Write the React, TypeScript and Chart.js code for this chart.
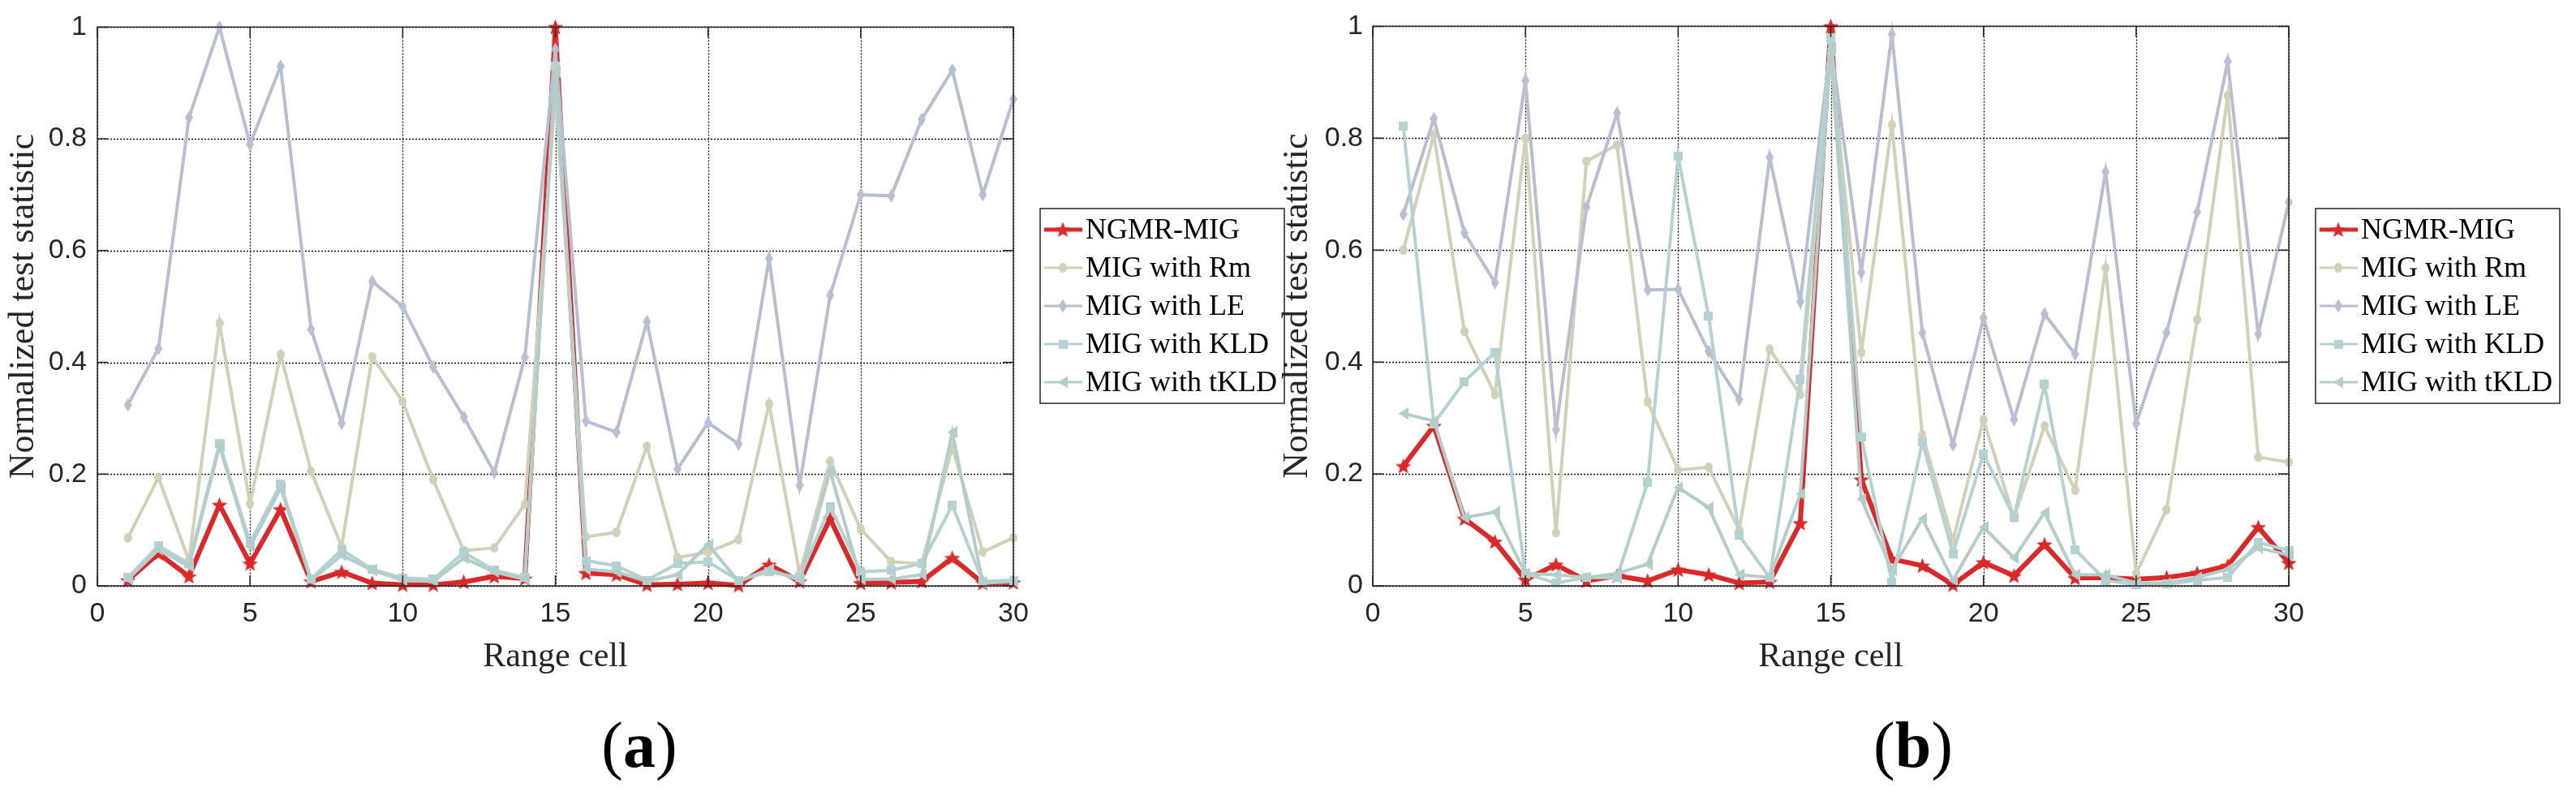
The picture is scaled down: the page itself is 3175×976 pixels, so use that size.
import React, { useEffect, useRef } from "react";
import { Chart, registerables } from "chart.js";

Chart.register(...registerables);

// range cells 1..30
const cells = [1, 2, 3, 4, 5, 6, 7, 8, 9, 10, 11, 12, 13, 14, 15, 16, 17, 18, 19, 20, 21, 22, 23, 24, 25, 26, 27, 28, 29, 30];
const xTicks = [0, 5, 10, 15, 20, 25, 30];
const yTicks = [0, 0.2, 0.4, 0.6, 0.8, 1];
const seriesNames = ["NGMR-MIG", "MIG with Rm", "MIG with LE", "MIG with KLD", "MIG with tKLD"];

// panel (a)
const aNgmr = [0.010, 0.058, 0.017, 0.145, 0.040, 0.137, 0.008, 0.025, 0.005, 0.002, 0.002, 0.007, 0.017, 0.013, 1.000, 0.023, 0.020, 0.002, 0.003, 0.005, 0.001, 0.038, 0.008, 0.120, 0.005, 0.006, 0.008, 0.050, 0.005, 0.006];
const aRm = [0.086, 0.194, 0.045, 0.470, 0.147, 0.414, 0.205, 0.070, 0.410, 0.330, 0.190, 0.063, 0.068, 0.146, 0.880, 0.088, 0.096, 0.250, 0.051, 0.060, 0.083, 0.326, 0.022, 0.223, 0.102, 0.043, 0.040, 0.248, 0.061, 0.086];
const aLe = [0.324, 0.425, 0.838, 1.000, 0.790, 0.930, 0.459, 0.291, 0.545, 0.500, 0.392, 0.302, 0.203, 0.409, 0.960, 0.295, 0.275, 0.473, 0.209, 0.292, 0.254, 0.586, 0.180, 0.520, 0.700, 0.698, 0.835, 0.923, 0.700, 0.871];
const aKld = [0.015, 0.072, 0.040, 0.255, 0.077, 0.182, 0.012, 0.065, 0.030, 0.014, 0.012, 0.060, 0.028, 0.015, 0.930, 0.045, 0.036, 0.010, 0.040, 0.043, 0.010, 0.025, 0.015, 0.142, 0.025, 0.028, 0.040, 0.144, 0.008, 0.010];
const aTkld = [0.012, 0.065, 0.035, 0.250, 0.070, 0.175, 0.010, 0.055, 0.028, 0.010, 0.008, 0.050, 0.025, 0.012, 0.920, 0.030, 0.025, 0.008, 0.020, 0.074, 0.008, 0.030, 0.010, 0.205, 0.012, 0.012, 0.020, 0.275, 0.005, 0.008];

// panel (b)
const bNgmr = [0.214, 0.286, 0.120, 0.079, 0.011, 0.038, 0.009, 0.018, 0.009, 0.029, 0.020, 0.005, 0.007, 0.112, 1.000, 0.190, 0.048, 0.036, 0.002, 0.042, 0.018, 0.074, 0.014, 0.015, 0.012, 0.015, 0.023, 0.036, 0.105, 0.041];
const bRm = [0.600, 0.806, 0.455, 0.342, 0.800, 0.095, 0.759, 0.788, 0.329, 0.207, 0.212, 0.100, 0.423, 0.342, 0.950, 0.417, 0.824, 0.270, 0.081, 0.297, 0.122, 0.286, 0.171, 0.568, 0.022, 0.137, 0.476, 0.876, 0.230, 0.221];
const bLe = [0.664, 0.835, 0.631, 0.542, 0.903, 0.279, 0.677, 0.845, 0.529, 0.530, 0.419, 0.333, 0.766, 0.508, 0.970, 0.560, 0.986, 0.452, 0.252, 0.479, 0.297, 0.486, 0.414, 0.740, 0.290, 0.453, 0.668, 0.937, 0.450, 0.686];
const bKld = [0.822, 0.290, 0.365, 0.417, 0.022, 0.005, 0.015, 0.015, 0.185, 0.768, 0.482, 0.090, 0.015, 0.369, 0.980, 0.266, 0.007, 0.257, 0.058, 0.236, 0.123, 0.360, 0.065, 0.010, 0.002, 0.003, 0.010, 0.015, 0.078, 0.063];
const bTkld = [0.308, 0.295, 0.122, 0.132, 0.022, 0.020, 0.015, 0.022, 0.039, 0.176, 0.140, 0.020, 0.015, 0.164, 0.960, 0.155, 0.029, 0.120, 0.010, 0.105, 0.050, 0.131, 0.020, 0.020, 0.005, 0.005, 0.015, 0.030, 0.068, 0.055];

const colors = ["#dc2828", "#d1d1b7", "#b8bfd3", "#b5d2d2", "#b3cdca"];
const lineWidths = [6, 4, 4, 4, 4];
const INK = "#262626";
const SERIF = "'Liberation Serif', 'Times New Roman', serif";
const SANS = "'Liberation Sans', Arial, sans-serif";
const TICK = 13;

function markerCanvas(kind: string, color: string): HTMLCanvasElement {
    const c = document.createElement("canvas");
    const size: Record<string, [number, number]> = {
        star: [21, 20], circle: [10, 12], diamond: [10, 17], square: [11, 11], tri: [12, 15]
    };
    const [w, h] = size[kind];
    c.width = w;
    c.height = h;
    const g = c.getContext("2d")!;
    g.fillStyle = color;
    g.beginPath();
    if (kind === "star") {
        for (let i = 0; i < 10; i++) {
            const r = i % 2 ? 4.4 : 10.2;
            const a = -Math.PI / 2 + (i * Math.PI) / 5;
            g.lineTo(w / 2 + r * Math.cos(a), 10.8 + r * Math.sin(a));
        }
    } else if (kind === "circle") {
        g.ellipse(w / 2, h / 2, w / 2, h / 2, 0, 0, Math.PI * 2);
    } else if (kind === "diamond") {
        g.moveTo(w / 2, 0); g.lineTo(w, h / 2); g.lineTo(w / 2, h); g.lineTo(0, h / 2);
    } else if (kind === "square") {
        g.rect(0, 0, w, h);
    } else {
        g.moveTo(0, h / 2); g.lineTo(w, 0); g.lineTo(w, h);
    }
    g.closePath();
    g.fill();
    return c;
}

const markerKinds = ["star", "circle", "diamond", "square", "tri"];

const framePlugin = {
    id: "matlabFrame",
    beforeDatasetsDraw(chart: any) {
        const { ctx, chartArea: { left, right, top, bottom }, scales: { x, y } } = chart;
        ctx.save();
        ctx.strokeStyle = "#111111";
        ctx.lineWidth = 1.3;
        ctx.setLineDash([2, 2]);
        ctx.beginPath();
        xTicks.forEach((v) => {
            const px = Math.round(x.getPixelForValue(v)) + 0.5;
            ctx.moveTo(px, top);
            ctx.lineTo(px, bottom);
        });
        yTicks.forEach((v) => {
            const py = Math.round(y.getPixelForValue(v)) + 0.5;
            ctx.moveTo(left, py);
            ctx.lineTo(right, py);
        });
        ctx.stroke();
        ctx.restore();
    },
    afterDraw(chart: any, _args: any, opts: any) {
        const { ctx, chartArea: { left, right, top, bottom }, scales: { x, y } } = chart;
        ctx.save();
        ctx.strokeStyle = INK;
        ctx.lineWidth = 1.5;
        ctx.setLineDash([]);
        ctx.strokeRect(left, top, right - left, bottom - top);
        ctx.beginPath();
        xTicks.forEach((v) => {
            const px = x.getPixelForValue(v);
            ctx.moveTo(px, bottom); ctx.lineTo(px, bottom - TICK);
            ctx.moveTo(px, top); ctx.lineTo(px, top + TICK);
        });
        yTicks.forEach((v) => {
            const py = y.getPixelForValue(v);
            ctx.moveTo(left, py); ctx.lineTo(left + TICK, py);
            ctx.moveTo(right, py); ctx.lineTo(right - TICK, py);
        });
        ctx.stroke();

        // legend box
        const lx = opts.left, ly = 257, lw = 301, lh = 240;
        ctx.fillStyle = "#ffffff";
        ctx.fillRect(lx, ly, lw, lh);
        ctx.lineWidth = 1.5;
        ctx.strokeRect(lx, ly, lw, lh);
        ctx.font = `36px ${SERIF}`;
        ctx.textBaseline = "middle";
        seriesNames.forEach((name, i) => {
            const ry = ly + 26 + i * 47;
            ctx.strokeStyle = colors[i];
            ctx.lineWidth = i === 0 ? 5 : 3;
            ctx.beginPath();
            ctx.moveTo(lx + 5, ry);
            ctx.lineTo(lx + 52, ry);
            ctx.stroke();
            const m = opts.markers[i] as HTMLCanvasElement;
            ctx.drawImage(m, lx + 28 - m.width / 2, ry - m.height / 2);
            ctx.fillStyle = "#000000";
            ctx.fillText(name, lx + 56, ry + 2);
        });
        ctx.restore();
    }
};

interface PanelProps {
    left: number;
    width: number;
    axisWidth: number;
    titlePad: number;
    tickPad: number;
    legendLeft: number;
    series: number[][];
}

const Panel = (props: PanelProps) => {
    const { left, width, axisWidth, titlePad, tickPad, legendLeft, series } = props;
    const canvasRef = useRef<HTMLCanvasElement | null>(null);
    const chartRef = useRef<Chart | null>(null);

    useEffect(() => {
        if (chartRef.current) {
            chartRef.current.destroy();
        }
        const ctx = canvasRef.current?.getContext("2d");
        if (!ctx) return;
        const markers = markerKinds.map((k, i) => markerCanvas(k, colors[i]));
        const areaRight = left + axisWidth + 1129;
        chartRef.current = new Chart(ctx, {
            type: "line",
            data: {
                datasets: series.map((vals, i) => ({
                    label: seriesNames[i],
                    data: cells.map((c, j) => ({ x: c, y: vals[j] })),
                    borderColor: colors[i],
                    backgroundColor: colors[i],
                    borderWidth: lineWidths[i],
                    pointStyle: markers[i] as any,
                    pointRadius: 5,
                    tension: 0,
                    clip: 14,
                    order: i === 0 ? 10 : 5 - i
                }))
            },
            options: {
                animation: false,
                responsive: false,
                maintainAspectRatio: false,
                layout: { padding: { left: 0, right: left + width - areaRight, top: 32, bottom: 137 } },
                plugins: {
                    legend: { display: false },
                    tooltip: { enabled: false },
                    matlabFrame: { left: legendLeft, markers }
                } as any,
                scales: {
                    x: {
                        type: "linear",
                        min: 0,
                        max: 30,
                        afterBuildTicks: (s: any) => { s.ticks = xTicks.map((v) => ({ value: v })); },
                        afterFit: (s: any) => { s.height = 117; },
                        grid: { display: false, drawTicks: false },
                        border: { display: false },
                        ticks: { color: INK, font: { family: SANS, size: 34 }, padding: 14, maxRotation: 0, autoSkip: false },
                        title: {
                            display: true,
                            text: "Range cell",
                            color: INK,
                            font: { family: SERIF, size: 42, lineHeight: 1.2 },
                            padding: { top: 4, bottom: 4 }
                        }
                    },
                    y: {
                        type: "linear",
                        min: 0,
                        max: 1,
                        afterBuildTicks: (s: any) => { s.ticks = yTicks.map((v) => ({ value: v })); },
                        afterFit: (s: any) => { s.width = axisWidth; },
                        grid: { display: false, drawTicks: false },
                        border: { display: false },
                        ticks: {
                            color: INK,
                            font: { family: SANS, size: 34 },
                            padding: tickPad,
                            callback: (v: any) => String(Math.round(Number(v) * 10) / 10)
                        },
                        title: {
                            display: true,
                            text: "Normalized test statistic",
                            color: INK,
                            font: { family: SERIF, size: 44, lineHeight: 1.1 },
                            padding: { top: titlePad, bottom: 0 }
                        }
                    }
                }
            },
            plugins: [framePlugin]
        });
        return () => {
            if (chartRef.current) {
                chartRef.current.destroy();
                chartRef.current = null;
            }
        };
    }, [left, width, axisWidth, titlePad, tickPad, legendLeft, series]);

    return (
        <canvas
            ref={canvasRef}
            width={width}
            height={976}
            style={{ position: "absolute", left, top: 0, width, height: 976 }}
        />
    );
};

const panelA = [aNgmr, aRm, aLe, aKld, aTkld];
const panelB = [bNgmr, bRm, bLe, bKld, bTkld];

const labelStyle: React.CSSProperties = {
    position: "absolute",
    top: 873,
    width: 200,
    textAlign: "center",
    fontFamily: SERIF,
    fontSize: 80,
    lineHeight: "90px",
    color: "#000"
};

const App = () => {
    useEffect(() => {
        document.body.style.margin = "0";
    }, []);
    return (
        <div style={{ position: "relative", width: 3175, height: 976, background: "#fff", overflow: "hidden" }}>
            <Panel left={0} width={1590} axisWidth={120} titlePad={5} tickPad={13} legendLeft={1282} series={panelA} />
            <Panel left={1575} width={1600} axisWidth={117} titlePad={0} tickPad={12} legendLeft={1279} series={panelB} />
            <div style={{ ...labelStyle, left: 788 - 100 }}>(<b>a</b>)</div>
            <div style={{ ...labelStyle, left: 2358 - 100 }}>(<b>b</b>)</div>
        </div>
    );
};

export default App;
